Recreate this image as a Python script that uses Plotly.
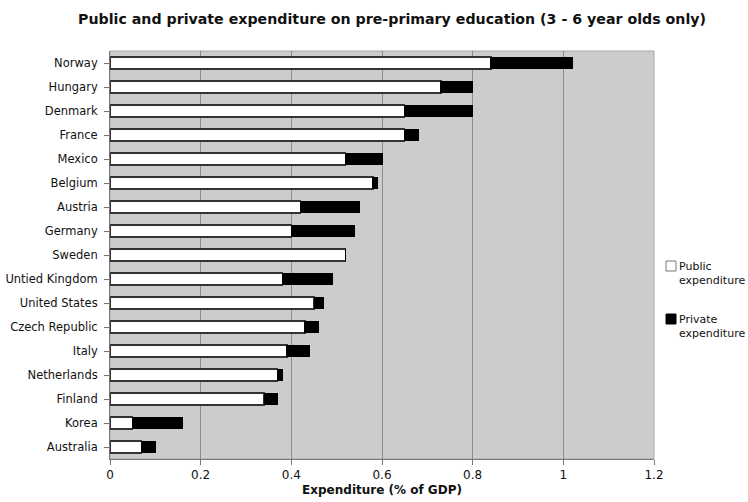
import plotly.graph_objects as go

countries = ["Norway", "Hungary", "Denmark", "France", "Mexico", "Belgium", "Austria",
             "Germany", "Sweden", "Untied Kingdom", "United States", "Czech Republic",
             "Italy", "Netherlands", "Finland", "Korea", "Australia"]
public = [0.84, 0.73, 0.65, 0.65, 0.52, 0.58, 0.42, 0.40, 0.52, 0.38, 0.45, 0.43,
          0.39, 0.37, 0.34, 0.05, 0.07]
private = [0.18, 0.07, 0.15, 0.03, 0.08, 0.01, 0.13, 0.14, 0.00, 0.11, 0.02, 0.03,
           0.05, 0.01, 0.03, 0.11, 0.03]
x_ticks = [0, 0.2, 0.4, 0.6, 0.8, 1.0, 1.2]
x_tick_text = ["0", "0.2", "0.4", "0.6", "0.8", "1", "1.2"]
series_names = ["Public<br>expenditure", "Private<br>expenditure"]

font_family = "DejaVu Sans, Verdana, sans-serif"
W, H = 748, 502
L, R, T, B = 110, 94, 51, 43
pw, ph = W - L - R, H - T - B

public_style = dict(color="white", line=dict(color="#333333", width=1.5))
private_style = dict(color="black", line=dict(color="black", width=1))

fig = go.Figure()
fig.add_trace(go.Bar(y=countries, x=public, orientation="h", name=series_names[0],
                     marker=public_style))
fig.add_trace(go.Bar(y=countries, x=private, orientation="h", name=series_names[1],
                     marker=private_style))


def px_x(px):
    return (px - L) / pw


def px_y(py):
    return (H - B - py) / ph


# legend drawn at the right of the plot: small square swatch + two-line label
legend_rows = [(series_names[0], "white", "#777777", 261),
               (series_names[1], "black", "black", 314)]
for name, fill, edge, top in legend_rows:
    fig.add_shape(type="rect", xref="paper", yref="paper",
                  x0=px_x(666), x1=px_x(676), y0=px_y(top + 10), y1=px_y(top),
                  fillcolor=fill, line=dict(color=edge, width=1))
    fig.add_annotation(text=name, xref="paper", yref="paper",
                       x=px_x(677), y=px_y(top - 3), xanchor="left", yanchor="top",
                       align="left", showarrow=False,
                       font=dict(size=11, family=font_family, color="#111111"))

fig.update_layout(
    width=W, height=H,
    barmode="stack", bargap=0.52, showlegend=False,
    margin=dict(l=L, r=R, t=T, b=B),
    paper_bgcolor="white", plot_bgcolor="#cbccce",
    font=dict(family=font_family, size=11, color="#111111"),
    title=dict(
        text="<b>Public and private expenditure on pre-primary education (3 - 6 year olds only)</b>",
        x=392 / W, xref="container", xanchor="center", y=0.963, yanchor="middle",
        font=dict(size=14.2, family=font_family, color="#111111"),
    ),
    xaxis=dict(
        range=[0, 1.2], tickvals=x_ticks, ticktext=x_tick_text,
        showgrid=True, gridcolor="#8c8c8c", gridwidth=1,
        showline=True, linecolor="#777777", linewidth=1, mirror=False,
        ticks="outside", ticklen=5, tickcolor="#777777",
        zeroline=False, fixedrange=True, automargin=False,
        tickfont=dict(size=12),
        title=dict(text="<b>Expenditure (% of GDP)</b>", font=dict(size=12), standoff=4),
    ),
    yaxis=dict(
        categoryorder="array", categoryarray=countries, autorange="reversed",
        showgrid=False, showline=True, linecolor="#777777", linewidth=1,
        ticks="outside", ticklen=5, tickcolor="#777777", ticklabelstandoff=4,
        automargin=False, tickfont=dict(size=11.5),
    ),
)

# light frame on the top and right of the plotting area
fig.add_shape(type="rect", xref="paper", yref="paper", x0=0, x1=1, y0=0, y1=1,
              line=dict(color="#a9a9a9", width=1), fillcolor="rgba(0,0,0,0)", layer="below")

fig.write_html("out.html")
